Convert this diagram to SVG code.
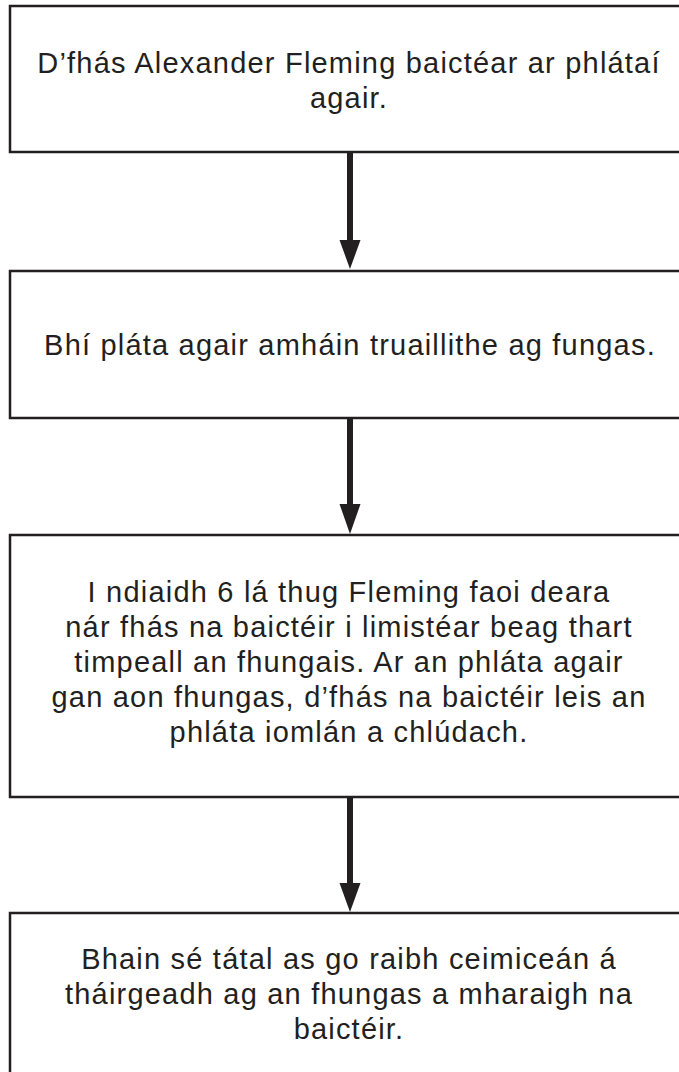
<svg xmlns="http://www.w3.org/2000/svg" width="679" height="1072" viewBox="0 0 679 1072">
<defs>
<style>
.box{fill:#fff;stroke:#231f20;stroke-width:2.5}
.t{font-family:"Liberation Sans",Arial,sans-serif;font-size:29px;letter-spacing:1.2px;fill:#231f20;text-anchor:middle}
.c{stroke:#231f20;stroke-width:6;fill:none}
.h{fill:#231f20}
</style>
</defs>
<rect width="679" height="1072" fill="#fff"/>
<g id="connectors">
<line class="c" x1="350" y1="152" x2="350" y2="242"/>
<polygon class="h" points="339.5,240 360.5,240 350,269"/>
<line class="c" x1="350" y1="418" x2="350" y2="506"/>
<polygon class="h" points="339.5,504 360.5,504 350,534"/>
<line class="c" x1="350" y1="797" x2="350" y2="885"/>
<polygon class="h" points="339.5,883 360.5,883 350,912"/>
</g>
<g id="n1">
<rect class="box" x="10" y="6" width="690" height="146"/>
<text class="t" x="349" y="73">D’fhás Alexander Fleming baictéar ar phlátaí</text>
<text class="t" x="349" y="108">agair.</text>
</g>
<g id="n2">
<rect class="box" x="10" y="271" width="690" height="147"/>
<text class="t" x="350" y="355">Bhí pláta agair amháin truaillithe ag fungas.</text>
</g>
<g id="n3">
<rect class="box" x="10" y="535" width="690" height="262"/>
<text class="t" x="349" y="602">I ndiaidh 6 lá thug Fleming faoi deara</text>
<text class="t" x="349" y="637">nár fhás na baictéir i limistéar beag thart</text>
<text class="t" x="349" y="672">timpeall an fhungais. Ar an phláta agair</text>
<text class="t" x="349" y="707">gan aon fhungas, d’fhás na baictéir leis an</text>
<text class="t" x="349" y="742">phláta iomlán a chlúdach.</text>
</g>
<g id="n4">
<rect class="box" x="10" y="913" width="690" height="170"/>
<text class="t" x="349" y="969">Bhain sé tátal as go raibh ceimiceán á</text>
<text class="t" x="349" y="1004">tháirgeadh ag an fhungas a mharaigh na</text>
<text class="t" x="349" y="1039">baictéir.</text>
</g>
</svg>
